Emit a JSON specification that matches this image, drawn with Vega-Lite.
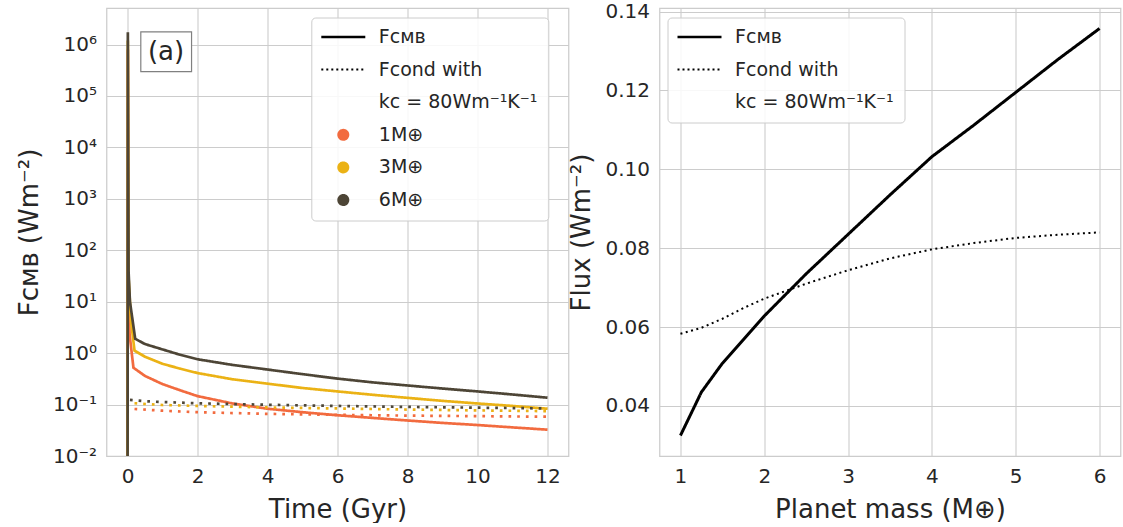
{
  "$schema": "https://vega.github.io/schema/vega-lite/v6.json",
  "background": "white",
  "padding": {"left": 15.5, "top": 0, "right": 0, "bottom": 0},
  "spacing": -2,
  "resolve": {"scale": {"color": "independent", "strokeDash": "independent"}, "legend": {"color": "independent", "strokeDash": "independent"}},
  "config": {
    "font": "DejaVu Sans",
    "view": {"stroke": "#cccccc", "strokeWidth": 1.25},
    "axis": {"domain": false, "ticks": false, "gridColor": "#cccccc", "gridWidth": 1.1, "labelFontSize": 20, "labelColor": "#262626", "titleFontSize": 26, "titleFontWeight": "normal", "titleColor": "#262626", "labelPadding": 10, "titlePadding": 10},
    "legend": {"orient": "none", "padding": 10, "rowPadding": 12.6, "symbolSize": 100, "symbolOffset": 12.5, "labelOffset": 26, "labelFontSize": 19, "labelColor": "#262626", "labelLimit": 0, "fillColor": "rgba(255,255,255,0.85)", "strokeColor": "#cccccc", "cornerRadius": 4}
  },
  "datasets": {
    "panelA": [
      {"t": 0, "F": 1e-5, "mass": "1M⊕", "kind": "F_CMB"},
      {"t": 0.01, "F": 800000, "mass": "1M⊕", "kind": "F_CMB"},
      {"t": 0.03, "F": 15, "mass": "1M⊕", "kind": "F_CMB"},
      {"t": 0.06, "F": 2.3, "mass": "1M⊕", "kind": "F_CMB"},
      {"t": 0.17, "F": 0.52, "mass": "1M⊕", "kind": "F_CMB"},
      {"t": 0.5, "F": 0.36, "mass": "1M⊕", "kind": "F_CMB"},
      {"t": 1, "F": 0.25, "mass": "1M⊕", "kind": "F_CMB"},
      {"t": 1.5, "F": 0.19, "mass": "1M⊕", "kind": "F_CMB"},
      {"t": 2, "F": 0.146, "mass": "1M⊕", "kind": "F_CMB"},
      {"t": 3, "F": 0.105, "mass": "1M⊕", "kind": "F_CMB"},
      {"t": 4, "F": 0.083, "mass": "1M⊕", "kind": "F_CMB"},
      {"t": 5, "F": 0.071, "mass": "1M⊕", "kind": "F_CMB"},
      {"t": 6, "F": 0.062, "mass": "1M⊕", "kind": "F_CMB"},
      {"t": 7, "F": 0.055, "mass": "1M⊕", "kind": "F_CMB"},
      {"t": 8, "F": 0.049, "mass": "1M⊕", "kind": "F_CMB"},
      {"t": 9, "F": 0.044, "mass": "1M⊕", "kind": "F_CMB"},
      {"t": 10, "F": 0.04, "mass": "1M⊕", "kind": "F_CMB"},
      {"t": 11, "F": 0.036, "mass": "1M⊕", "kind": "F_CMB"},
      {"t": 12, "F": 0.0325, "mass": "1M⊕", "kind": "F_CMB"},
      {"t": 0.2, "F": 0.082, "mass": "1M⊕", "kind": "F_cond"},
      {"t": 1, "F": 0.076, "mass": "1M⊕", "kind": "F_cond"},
      {"t": 2, "F": 0.071, "mass": "1M⊕", "kind": "F_cond"},
      {"t": 4, "F": 0.066, "mass": "1M⊕", "kind": "F_cond"},
      {"t": 6, "F": 0.063, "mass": "1M⊕", "kind": "F_cond"},
      {"t": 8, "F": 0.061, "mass": "1M⊕", "kind": "F_cond"},
      {"t": 10, "F": 0.0595, "mass": "1M⊕", "kind": "F_cond"},
      {"t": 12, "F": 0.058, "mass": "1M⊕", "kind": "F_cond"},
      {"t": 0, "F": 1e-5, "mass": "3M⊕", "kind": "F_CMB"},
      {"t": 0.01, "F": 1200000, "mass": "3M⊕", "kind": "F_CMB"},
      {"t": 0.03, "F": 30, "mass": "3M⊕", "kind": "F_CMB"},
      {"t": 0.1, "F": 4.2, "mass": "3M⊕", "kind": "F_CMB"},
      {"t": 0.2, "F": 1.12, "mass": "3M⊕", "kind": "F_CMB"},
      {"t": 0.5, "F": 0.85, "mass": "3M⊕", "kind": "F_CMB"},
      {"t": 1, "F": 0.62, "mass": "3M⊕", "kind": "F_CMB"},
      {"t": 1.5, "F": 0.5, "mass": "3M⊕", "kind": "F_CMB"},
      {"t": 2, "F": 0.41, "mass": "3M⊕", "kind": "F_CMB"},
      {"t": 3, "F": 0.31, "mass": "3M⊕", "kind": "F_CMB"},
      {"t": 4, "F": 0.255, "mass": "3M⊕", "kind": "F_CMB"},
      {"t": 5, "F": 0.21, "mass": "3M⊕", "kind": "F_CMB"},
      {"t": 6, "F": 0.18, "mass": "3M⊕", "kind": "F_CMB"},
      {"t": 7, "F": 0.155, "mass": "3M⊕", "kind": "F_CMB"},
      {"t": 8, "F": 0.135, "mass": "3M⊕", "kind": "F_CMB"},
      {"t": 9, "F": 0.118, "mass": "3M⊕", "kind": "F_CMB"},
      {"t": 10, "F": 0.105, "mass": "3M⊕", "kind": "F_CMB"},
      {"t": 11, "F": 0.094, "mass": "3M⊕", "kind": "F_CMB"},
      {"t": 12, "F": 0.083, "mass": "3M⊕", "kind": "F_CMB"},
      {"t": 0.2, "F": 0.106, "mass": "3M⊕", "kind": "F_cond"},
      {"t": 1, "F": 0.098, "mass": "3M⊕", "kind": "F_cond"},
      {"t": 2, "F": 0.094, "mass": "3M⊕", "kind": "F_cond"},
      {"t": 4, "F": 0.088, "mass": "3M⊕", "kind": "F_cond"},
      {"t": 6, "F": 0.084, "mass": "3M⊕", "kind": "F_cond"},
      {"t": 8, "F": 0.08, "mass": "3M⊕", "kind": "F_cond"},
      {"t": 10, "F": 0.077, "mass": "3M⊕", "kind": "F_cond"},
      {"t": 12, "F": 0.0745, "mass": "3M⊕", "kind": "F_cond"},
      {"t": 0, "F": 1e-5, "mass": "6M⊕", "kind": "F_CMB"},
      {"t": 0.01, "F": 1740000, "mass": "6M⊕", "kind": "F_CMB"},
      {"t": 0.03, "F": 40, "mass": "6M⊕", "kind": "F_CMB"},
      {"t": 0.07, "F": 10, "mass": "6M⊕", "kind": "F_CMB"},
      {"t": 0.22, "F": 1.9, "mass": "6M⊕", "kind": "F_CMB"},
      {"t": 0.5, "F": 1.5, "mass": "6M⊕", "kind": "F_CMB"},
      {"t": 1, "F": 1.18, "mass": "6M⊕", "kind": "F_CMB"},
      {"t": 1.5, "F": 0.93, "mass": "6M⊕", "kind": "F_CMB"},
      {"t": 2, "F": 0.76, "mass": "6M⊕", "kind": "F_CMB"},
      {"t": 3, "F": 0.59, "mass": "6M⊕", "kind": "F_CMB"},
      {"t": 4, "F": 0.48, "mass": "6M⊕", "kind": "F_CMB"},
      {"t": 5, "F": 0.39, "mass": "6M⊕", "kind": "F_CMB"},
      {"t": 6, "F": 0.32, "mass": "6M⊕", "kind": "F_CMB"},
      {"t": 7, "F": 0.27, "mass": "6M⊕", "kind": "F_CMB"},
      {"t": 8, "F": 0.235, "mass": "6M⊕", "kind": "F_CMB"},
      {"t": 9, "F": 0.205, "mass": "6M⊕", "kind": "F_CMB"},
      {"t": 10, "F": 0.18, "mass": "6M⊕", "kind": "F_CMB"},
      {"t": 11, "F": 0.157, "mass": "6M⊕", "kind": "F_CMB"},
      {"t": 12, "F": 0.136, "mass": "6M⊕", "kind": "F_CMB"},
      {"t": 0.07, "F": 0.123, "mass": "6M⊕", "kind": "F_cond"},
      {"t": 0.5, "F": 0.116, "mass": "6M⊕", "kind": "F_cond"},
      {"t": 1, "F": 0.112, "mass": "6M⊕", "kind": "F_cond"},
      {"t": 2, "F": 0.106, "mass": "6M⊕", "kind": "F_cond"},
      {"t": 4, "F": 0.099, "mass": "6M⊕", "kind": "F_cond"},
      {"t": 6, "F": 0.094, "mass": "6M⊕", "kind": "F_cond"},
      {"t": 8, "F": 0.09, "mass": "6M⊕", "kind": "F_cond"},
      {"t": 10, "F": 0.087, "mass": "6M⊕", "kind": "F_cond"},
      {"t": 12, "F": 0.084, "mass": "6M⊕", "kind": "F_cond"}
    ],
    "panelB": [
      {"m": 1, "F": 0.0325, "kind": "Fᴄᴍʙ"},
      {"m": 1.25, "F": 0.0435, "kind": "Fᴄᴍʙ"},
      {"m": 1.5, "F": 0.0508, "kind": "Fᴄᴍʙ"},
      {"m": 1.75, "F": 0.0568, "kind": "Fᴄᴍʙ"},
      {"m": 2, "F": 0.0628, "kind": "Fᴄᴍʙ"},
      {"m": 2.5, "F": 0.0735, "kind": "Fᴄᴍʙ"},
      {"m": 3, "F": 0.0835, "kind": "Fᴄᴍʙ"},
      {"m": 3.5, "F": 0.0935, "kind": "Fᴄᴍʙ"},
      {"m": 4, "F": 0.1032, "kind": "Fᴄᴍʙ"},
      {"m": 4.5, "F": 0.1112, "kind": "Fᴄᴍʙ"},
      {"m": 5, "F": 0.1195, "kind": "Fᴄᴍʙ"},
      {"m": 5.5, "F": 0.1278, "kind": "Fᴄᴍʙ"},
      {"m": 6, "F": 0.1357, "kind": "Fᴄᴍʙ"},
      {"m": 1, "F": 0.0583, "kind": "Fcond with"},
      {"m": 1.25, "F": 0.0598, "kind": "Fcond with"},
      {"m": 1.5, "F": 0.0621, "kind": "Fcond with"},
      {"m": 1.75, "F": 0.0648, "kind": "Fcond with"},
      {"m": 2, "F": 0.0672, "kind": "Fcond with"},
      {"m": 2.5, "F": 0.071, "kind": "Fcond with"},
      {"m": 3, "F": 0.0744, "kind": "Fcond with"},
      {"m": 3.5, "F": 0.0774, "kind": "Fcond with"},
      {"m": 4, "F": 0.0797, "kind": "Fcond with"},
      {"m": 4.5, "F": 0.0813, "kind": "Fcond with"},
      {"m": 5, "F": 0.0826, "kind": "Fcond with"},
      {"m": 5.5, "F": 0.0834, "kind": "Fcond with"},
      {"m": 6, "F": 0.084, "kind": "Fcond with"}
    ]
  },
  "hconcat": [
    {
      "width": 462,
      "height": 448,
      "layer": [
        {
          "data": {"name": "panelA"},
          "mark": {"type": "line", "clip": true, "strokeWidth": 2.7},
          "encoding": {
            "x": {"field": "t", "type": "quantitative", "scale": {"domain": [-0.6, 12.6], "nice": false, "zero": false}, "axis": {"values": [0, 2, 4, 6, 8, 10, 12], "title": "Time (Gyr)"}},
            "y": {"field": "F", "type": "quantitative", "scale": {"type": "log", "domain": [0.01, 5130000], "nice": false}, "axis": {"values": [0.01, 0.1, 1, 10, 100, 1000, 10000, 100000, 1000000], "title": "Fᴄᴍʙ (Wm⁻²)", "labelExpr": "datum.value < 0.05 ? '10⁻²' : datum.value < 0.5 ? '10⁻¹' : datum.value < 5 ? '10⁰' : datum.value < 50 ? '10¹' : datum.value < 500 ? '10²' : datum.value < 5000 ? '10³' : datum.value < 50000 ? '10⁴' : datum.value < 500000 ? '10⁵' : '10⁶'"}},
            "color": {
              "field": "mass", "type": "nominal",
              "scale": {"domain": ["Fᴄᴍʙ", "Fcond with", "kc = 80Wm⁻¹K⁻¹", "1M⊕", "3M⊕", "6M⊕"], "range": ["#000000", "#000000", "#ffffff", "#f26b3f", "#ebb215", "#4d4536"]},
              "legend": {
                "title": null, "legendX": 204.8, "legendY": 9.5,
                "encode": {"symbols": {"update": {
                  "shape": {"signal": "datum.index < 2 ? 'M-4.4,0L4.4,0' : 'circle'"},
                  "stroke": {"signal": "datum.index < 2 ? '#000000' : 'transparent'"},
                  "strokeWidth": {"signal": "datum.index == 0 ? 2.5 : 2"},
                  "strokeDash": {"signal": "datum.index == 1 ? [2, 3] : [1, 0]"},
                  "fill": {"signal": "datum.index == 3 ? '#f26b3f' : datum.index == 4 ? '#ebb215' : datum.index == 5 ? '#4d4536' : 'transparent'"},
                  "opacity": {"signal": "datum.index == 2 ? 0 : 1"}
                }}}
              }
            },
            "strokeDash": {"field": "kind", "type": "nominal", "scale": {"domain": ["F_CMB", "F_cond"], "range": [[1, 0], [2.7, 6]]}, "legend": null}
          }
        },
        {
          "data": {"values": [{}]},
          "mark": {"type": "rect", "fill": "white", "stroke": "#808080", "strokeWidth": 1.2},
          "encoding": {"x": {"datum": 0.38}, "x2": {"datum": 1.83}, "y": {"datum": 1760000}, "y2": {"datum": 296000}}
        },
        {
          "data": {"values": [{}]},
          "mark": {"type": "text", "fontSize": 26, "color": "#262626", "align": "center", "baseline": "middle"},
          "encoding": {"x": {"datum": 1.1}, "y": {"datum": 720000}, "text": {"value": "(a)"}}
        }
      ]
    },
    {
      "width": 461,
      "height": 448,
      "encoding": {
        "x": {"field": "m", "type": "quantitative", "scale": {"domain": [0.75, 6.25], "nice": false, "zero": false}, "axis": {"values": [1, 2, 3, 4, 5, 6], "title": "Planet mass (M⊕)"}},
        "y": {"field": "F", "type": "quantitative", "scale": {"domain": [0.0273, 0.1409], "nice": false, "zero": false}, "axis": {"values": [0.04, 0.06, 0.08, 0.1, 0.12, 0.14], "format": ".2f", "title": "Flux (Wm⁻²)"}}
      },
      "layer": [
        {
          "data": {"name": "panelB"},
          "mark": {"type": "line", "color": "#000000"},
          "encoding": {
            "color": {
              "field": "kind", "type": "nominal",
              "scale": {"domain": ["Fᴄᴍʙ", "Fcond with", "kc = 80Wm⁻¹K⁻¹"], "range": ["#000000", "#000000", "#ffffff"]},
              "legend": {
                "title": null, "legendX": 8, "legendY": 9.5,
                "encode": {"symbols": {"update": {
                  "shape": {"value": "M-4.4,0L4.4,0"},
                  "stroke": {"value": "#000000"},
                  "strokeWidth": {"signal": "datum.index == 0 ? 2.7 : 2"},
                  "strokeDash": {"signal": "datum.index == 1 ? [2, 3] : [1, 0]"},
                  "opacity": {"signal": "datum.index == 2 ? 0 : 1"}
                }}}
              }
            },
            "strokeDash": {"field": "kind", "type": "nominal", "scale": {"domain": ["Fᴄᴍʙ", "Fcond with"], "range": [[1, 0], [2, 3.5]]}, "legend": null},
            "strokeWidth": {"field": "kind", "type": "ordinal", "scale": {"domain": ["Fᴄᴍʙ", "Fcond with"], "range": [3, 2]}, "legend": null}
          }
        },
        {
          "data": {"values": [{}]},
          "mark": {"type": "rect", "fill": "white", "stroke": "#808080", "strokeWidth": 1.2},
          "encoding": {"x": {"datum": 1.123}, "x2": {"datum": 1.713}, "y": {"datum": 0.10697}, "y2": {"datum": 0.0966}}
        },
        {
          "data": {"values": [{}]},
          "mark": {"type": "text", "fontSize": 26, "color": "#262626", "align": "center", "baseline": "middle"},
          "encoding": {"x": {"datum": 1.418}, "y": {"datum": 0.1018}, "text": {"value": "(b)"}}
        }
      ]
    }
  ]
}
